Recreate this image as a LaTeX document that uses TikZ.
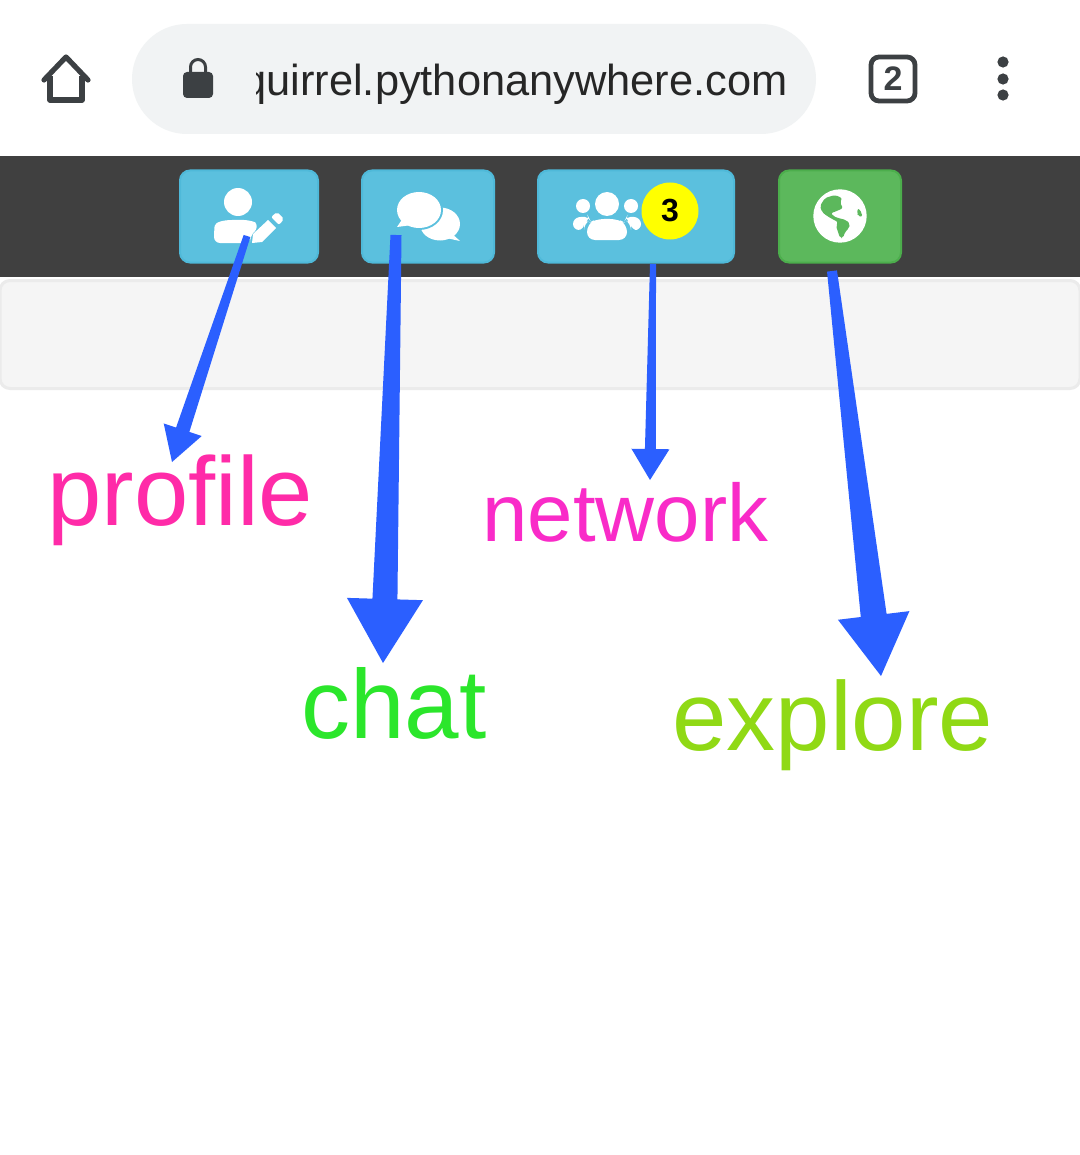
\documentclass[tikz,border=0pt]{standalone}
\usepackage{fontspec}
\setmainfont{Liberation Sans}
\usetikzlibrary{calc}
\definecolor{barcol}{HTML}{404040}
\definecolor{pillcol}{HTML}{F1F3F4}
\definecolor{iconcol}{HTML}{3C4043}
\definecolor{infocol}{HTML}{5BC0DE}
\definecolor{infoedge}{HTML}{4FB9D9}
\definecolor{okcol}{HTML}{5CB85C}
\definecolor{okedge}{HTML}{4CAE4C}
\definecolor{badgecol}{HTML}{FFFF00}
\definecolor{arrowblue}{HTML}{2B5FFF}
\definecolor{pinkcol}{HTML}{FF2BA8}
\definecolor{magcol}{HTML}{F92BC8}
\definecolor{greencol}{HTML}{2BE62B}
\definecolor{limecol}{HTML}{90D915}
\tikzset{
  navbtn/.style={draw=infoedge,fill=infocol,line width=1pt,rounded corners=5pt,inner sep=0pt,minimum height=46pt},
  word/.style={anchor=base west,inner sep=0pt},
  whiteicon/.style={fill=white,draw=none},
}
\newcommand{\tapered}[6]{
\coordinate (neck) at ($(#2)!#6!(#1)$);
\fill[arrowblue] ($(#1)!#3!90:(#2)$) -- ($(#1)!#3!-90:(#2)$) -- ($(neck)!#4!-90:(#2)$)
  -- ($(neck)!#5!-90:(#2)$) -- (#2) -- ($(neck)!#5!90:(#2)$) -- ($(neck)!#4!90:(#2)$) -- cycle;
}
\begin{document}
\begin{tikzpicture}[x=0.5pt,y=-0.5pt]
\useasboundingbox (0,0) rectangle (1080,1155);
\fill[white] (0,0) rectangle (1080,1155);

\draw[iconcol,line width=2.6pt,line join=round,line cap=round] (44,80) -- (66,57) -- (88,80);
\draw[iconcol,line width=2.6pt,line join=round] (50,76) -- (50,100) -- (82,100) -- (82,76);

\node[fill=pillcol,rounded corners=27.5pt,minimum width=342pt,minimum height=55pt,inner sep=0pt] (pill) at (474,79) {};
\draw[iconcol,line width=1.5pt] (190.5,72) -- (190.5,67) arc[start angle=180,end angle=360,radius=7.5] -- (205.5,72);
\fill[iconcol,rounded corners=2pt] (183,72) rectangle (213,98);
\begin{scope}
\clip (256,50) rectangle (800,110);
\node[anchor=base east,inner sep=0pt,font=\fontsize{21.7pt}{24pt}\selectfont,text=black!85] (url) at (788,96) {squirrel.pythonanywhere.com};
\end{scope}

\node[draw=iconcol,line width=2.4pt,rounded corners=4pt,minimum width=22pt,minimum height=22pt,inner sep=0pt,font=\bfseries\fontsize{17pt}{18pt}\selectfont,text=iconcol] (tabs) at (893,79) {2};
\foreach \y/\n in {62/a,79/b,95/c}
  \node[circle,fill=iconcol,minimum size=5.6pt,inner sep=0pt] (dot\n) at (1003,\y) {};

\fill[barcol] (0,156) rectangle (1080,277);
\node[draw=black!8,fill=black!4,line width=1.5pt,rounded corners=5pt,minimum width=540pt,minimum height=54pt,inner sep=0pt] (panel) at (540,334.5) {};

\node[navbtn,minimum width=69pt] (profilebtn) at (249,216.5) {};
\node[navbtn,minimum width=66pt] (chatbtn) at (428,216.5) {};
\node[navbtn,minimum width=98pt] (networkbtn) at (636,216.5) {};
\node[navbtn,draw=okedge,fill=okcol,minimum width=61pt] (explorebtn) at (840,216.5) {};

\fill[whiteicon] (238,202) circle[radius=14];
\fill[whiteicon,rounded corners=3pt] (214,243) -- (214,232) .. controls (215,222) and (224,220) .. (238,220)
  .. controls (248,220) and (255,222) .. (259,227) -- (250,236) -- (250,243) -- cycle;
\fill[whiteicon,line join=round] (253,234) -- (268,220) -- (276,228) -- (262,242) -- (252,243) -- cycle;
\fill[whiteicon,rounded corners=1pt] (271,217) -- (277,212) -- (284,219) -- (279,225) -- cycle;

\fill[whiteicon] (440,224) ellipse[x radius=20,y radius=16.5];
\fill[whiteicon] (450,232) -- (460,241) -- (446,238) -- cycle;
\fill[infocol] (419,210) ellipse[x radius=24,y radius=20];
\fill[whiteicon] (419,210) ellipse[x radius=22,y radius=18];
\fill[whiteicon] (403,218) -- (397,227) -- (412,225) -- cycle;

\fill[whiteicon] (607,204) circle[radius=12];
\fill[whiteicon] (583,206) circle[radius=7];
\fill[whiteicon] (631,206) circle[radius=7];
\fill[whiteicon,rounded corners=3pt] (573,230) -- (573,218) -- (588,216) -- (590,220) -- (584,224) -- (584,230) -- cycle;
\fill[whiteicon,rounded corners=3pt] (641,230) -- (641,218) -- (627,216) -- (625,220) -- (631,224) -- (631,230) -- cycle;
\fill[whiteicon,rounded corners=4pt] (587,240) -- (587,224) -- (596,219) -- (618,219) -- (627,224) -- (627,240) -- cycle;
\node[circle,fill=badgecol,minimum size=28.5pt,inner sep=0pt,font=\bfseries\fontsize{16pt}{18pt}\selectfont] (badge) at (670,211) {3};

\node[circle,fill=white,minimum size=26.7pt,inner sep=0pt] (globe) at (840,216) {};
\fill[okcol,rounded corners=1pt] (820,206) -- (825,198) -- (835,195) -- (842,198) -- (840,203) -- (843,208) -- (837,211)
  -- (831,213) -- (833,216) -- (838,218) -- (846,220) -- (850,224) -- (849,228) -- (845,232) -- (843,238) -- (840,238)
  -- (838,232) -- (836,226) -- (838,222) -- (834,220) -- (827,216) -- (822,212) -- cycle;
\fill[okcol,rounded corners=1pt] (857,213) -- (858,208) -- (862,213) -- (862,217) -- (858,216) -- cycle;

\node[word,text=pinkcol,font=\fontsize{48.8pt}{50pt}\selectfont] (profilelbl) at (47,525) {profile};
\node[word,text=greencol,font=\fontsize{49pt}{50pt}\selectfont] (chatlbl) at (301,738) {chat};
\node[word,text=magcol,font=\fontsize{40.8pt}{44pt}\selectfont] (networklbl) at (482,541) {network};
\node[word,text=limecol,font=\fontsize{48.9pt}{50pt}\selectfont] (explorelbl) at (672,750) {explore};

\coordinate (profilefrom) at (247,236);
\coordinate (profiletip) at (172,462);
\coordinate (chatfrom) at (396,235);
\coordinate (chattip) at (383,663);
\coordinate (networkfrom) at (653,264);
\coordinate (networktip) at (650,480);
\coordinate (explorefrom) at (832,271);
\coordinate (exploretip) at (881,676);

\tapered{profilefrom}{profiletip}{1.75pt}{3.5pt}{10pt}{17pt}
\tapered{chatfrom}{chattip}{2.75pt}{6.25pt}{19pt}{32pt}
\tapered{networkfrom}{networktip}{1.5pt}{2.75pt}{9.5pt}{15.5pt}
\tapered{explorefrom}{exploretip}{2.5pt}{6.5pt}{18pt}{30.5pt}
\end{tikzpicture}
\end{document}
